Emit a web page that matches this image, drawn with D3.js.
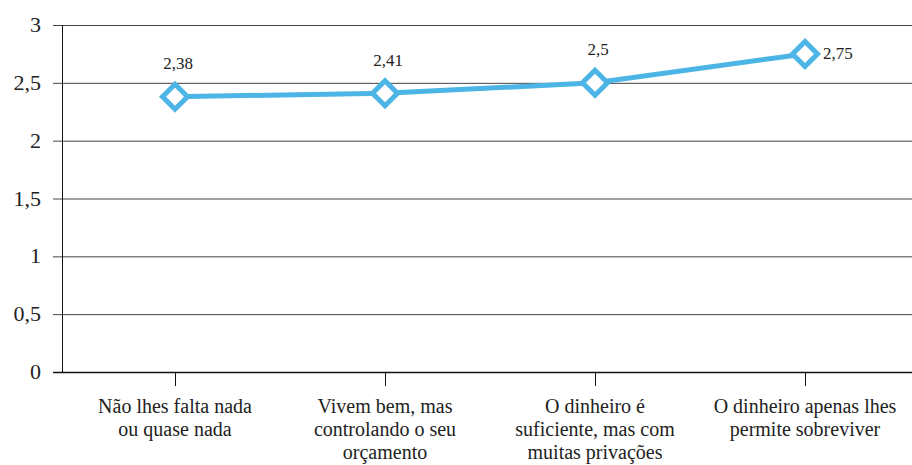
<!DOCTYPE html>
<html>
<head>
<meta charset="utf-8">
<script src="https://cdn.jsdelivr.net/npm/d3@7"></script>
<style>
  body { margin: 0; background: #fff; }
  #wrap { position: relative; width: 912px; height: 465px; }
  #wrap svg { position: absolute; left: 0; top: 0; }
  .lab { position: absolute; white-space: nowrap; font-family: 'Liberation Serif'; color: #222; }
</style>
</head>
<body>
<div id="wrap"><svg id="chart" width="912" height="465"></svg></div>
<script>
// data
var categories = [
    ["Não lhes falta nada", "ou quase nada"],
    ["Vivem bem, mas", "controlando o seu", "orçamento"],
    ["O dinheiro é", "suficiente, mas com", "muitas privações"],
    ["O dinheiro apenas lhes", "permite sobreviver"]
];
var values = [2.38, 2.41, 2.5, 2.75];
var valueLabels = ["2,38", "2,41", "2,5", "2,75"];
var yTicks = [0, 0.5, 1, 1.5, 2, 2.5, 3];
var yTickLabels = ["0", "0,5", "1", "1,5", "2", "2,5", "3"];

var svg = d3.select("#chart");
var wrap = d3.select("#wrap");
var plotLeft = 62, plotRight = 912, plotTop = 25, plotBottom = 372;
var blue = "#4db5e6";

var x = d3.scalePoint().domain(d3.range(categories.length)).range([175, 805]);
var y = d3.scaleLinear().domain([0, 3]).range([plotBottom, plotTop]);

// text label placed by its baseline; anchor = start / middle / end
var addLabel = function (px, baseline, txt, size, anchor) {
    var lh = Math.round(size * 1.15);
    var topPos = baseline - (lh - size * 1.107) / 2 - size * 0.891;
    var shift = anchor == "middle" ? "-50%" : anchor == "end" ? "-100%" : "0";
    wrap.append("div")
        .attr("class", "lab")
        .style("left", px + "px")
        .style("top", topPos + "px")
        .style("font-size", size + "px")
        .style("line-height", lh + "px")
        .style("transform", "translateX(" + shift + ")")
        .text(txt);
};

// grid lines + y ticks
svg.selectAll(".grid").data(yTicks).enter().append("line")
    .attr("class", "grid")
    .attr("x1", 53).attr("x2", plotRight)
    .attr("y1", function (d) { return y(d) + 0.5; })
    .attr("y2", function (d) { return y(d) + 0.5; })
    .attr("stroke", function (d) { return d == 0 ? "#111" : "#444"; })
    .attr("stroke-width", function (d) { return d == 0 ? 1.3 : 1; });

yTicks.forEach(function (d, i) {
    addLabel(41, y(d) + 7, yTickLabels[i], 22, "end");
});

// y axis line
svg.append("line")
    .attr("x1", plotLeft + 0.5).attr("x2", plotLeft + 0.5)
    .attr("y1", plotTop).attr("y2", plotBottom)
    .attr("stroke", "#111");

// x ticks + labels
categories.forEach(function (lines, i) {
    svg.append("line")
        .attr("x1", x(i) + 0.5).attr("x2", x(i) + 0.5)
        .attr("y1", plotBottom).attr("y2", plotBottom + 14)
        .attr("stroke", "#111");
    lines.forEach(function (l, j) {
        addLabel(x(i), 413 + j * 23, l, 20, "middle");
    });
});

// line
var line = d3.line()
    .x(function (d, i) { return x(i); })
    .y(function (d) { return y(d); });

svg.append("path")
    .datum(values)
    .attr("d", line)
    .attr("fill", "none")
    .attr("stroke", blue)
    .attr("stroke-width", 5);

// diamond markers
var r = 12.5;
svg.selectAll(".mark").data(values).enter().append("path")
    .attr("class", "mark")
    .attr("d", function (d, i) {
        var cx = x(i), cy = y(d);
        return "M" + cx + "," + (cy - r) + "L" + (cx + r) + "," + cy +
               "L" + cx + "," + (cy + r) + "L" + (cx - r) + "," + cy + "Z";
    })
    .attr("fill", "#fff")
    .attr("stroke", blue)
    .attr("stroke-width", 5);

// value labels
var last = values.length - 1;
values.forEach(function (d, i) {
    if (i == last) addLabel(x(i) + 18, y(d) + 6, valueLabels[i], 17, "start");
    else addLabel(x(i) + 3, y(d) - 27, valueLabels[i], 17, "middle");
});
</script>
</body>
</html>
